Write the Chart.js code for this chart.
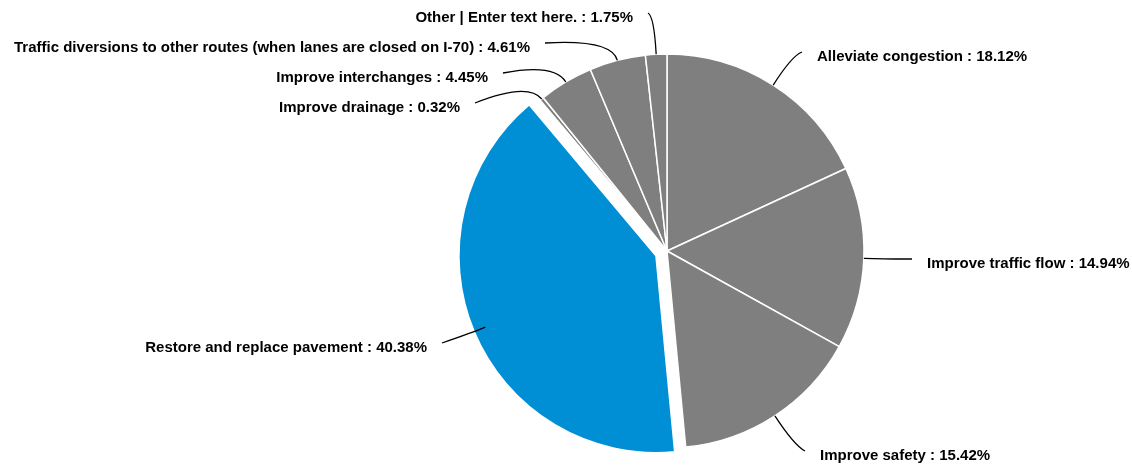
<!DOCTYPE html>
<html>
<head>
<meta charset="utf-8">
<script src="https://cdn.jsdelivr.net/npm/chart.js@4/dist/chart.umd.min.js"></script>
<style>
  html, body { margin: 0; padding: 0; background: #ffffff; }
  #wrap { width: 1132px; height: 466px; }
</style>
</head>
<body>
<div id="wrap"><canvas id="pie" width="1132" height="466"></canvas></div>
<script>
// Survey answers, clockwise from 12 o'clock
const categories = [
  'Alleviate congestion',
  'Improve traffic flow',
  'Improve safety',
  'Restore and replace pavement',
  'Improve drainage',
  'Improve interchanges',
  'Traffic diversions to other routes (when lanes are closed on I-70)',
  'Other | Enter text here.'
];
const shares = [18.12, 14.94, 15.42, 40.38, 0.32, 4.45, 4.61, 1.75];

// Styling
const GREY = '#7f7f7f';
const BLUE = '#008fd5';
const sliceColors = [GREY, GREY, GREY, BLUE, GREY, GREY, GREY, GREY];
const pulledSlice = 3;      // the highlighted slice sits apart from the rest
const pullDistance = 12;
const pieRadius = 197;

// Where each leader line ends, relative to the pie centre: [dx, dy, elbow length]
const leaderLayout = [
  [135, -199, 35],
  [245, 8, 20],
  [138, 200, 35],
  [-225, 92, 15],
  [-192, -148, 22],
  [-164, -178, 22],
  [-122, -208, 22],
  [-19, -238, 38]
];

// Moves one arc outward along its bisector without growing its radius
const pullOutSlice = {
  id: 'pullOutSlice',
  afterUpdate(chart) {
    const arc = chart.getDatasetMeta(0).data[pulledSlice];
    if (!arc || arc.$pulled) return;
    const baseDraw = arc.draw.bind(arc);
    arc.draw = function (ctx, area) {
      const a = (this.startAngle + this.endAngle) / 2;
      ctx.save();
      ctx.translate(Math.cos(a) * pullDistance, Math.sin(a) * pullDistance);
      baseDraw(ctx, area);
      ctx.restore();
    };
    arc.$pulled = true;
  }
};

// Outside labels joined to their slices by curved leader lines
const leaderLabels = {
  id: 'leaderLabels',
  afterDatasetsDraw(chart) {
    const ctx = chart.ctx;
    const arcs = chart.getDatasetMeta(0).data;
    ctx.save();
    ctx.font = 'bold 15px "Liberation Sans", Arial, sans-serif';
    ctx.textBaseline = 'middle';
    ctx.fillStyle = '#000000';
    ctx.strokeStyle = '#000000';
    ctx.lineWidth = 1.3;
    arcs.forEach((arc, i) => {
      const a = (arc.startAngle + arc.endAngle) / 2;
      const r = arc.outerRadius;
      const sx = arc.x + Math.cos(a) * r;
      const sy = arc.y + Math.sin(a) * r;
      const [dx, dy, elbow] = leaderLayout[i];
      const ex = arc.x + dx;
      const ey = arc.y + dy;
      const cx = sx + Math.cos(a) * elbow;
      const cy = sy + Math.sin(a) * elbow;
      ctx.beginPath();
      ctx.moveTo(sx, sy);
      ctx.quadraticCurveTo(cx, cy, ex, ey);
      ctx.stroke();
      const text = categories[i] + ' : ' + shares[i].toFixed(2) + '%';
      if (dx < 0) {
        ctx.textAlign = 'right';
        ctx.fillText(text, ex - 15, ey + 4.5);
      } else {
        ctx.textAlign = 'left';
        ctx.fillText(text, ex + 15, ey + 4.5);
      }
    });
    ctx.restore();
  }
};

new Chart(document.getElementById('pie'), {
  type: 'pie',
  data: {
    labels: categories,
    datasets: [{
      data: shares,
      backgroundColor: sliceColors,
      borderColor: '#ffffff',
      borderWidth: 1.5
    }]
  },
  options: {
    responsive: false,
    animation: false,
    radius: pieRadius,
    layout: { padding: { left: 202, right: 0, top: 36, bottom: 0 } },
    plugins: {
      legend: { display: false },
      tooltip: { enabled: false }
    }
  },
  plugins: [pullOutSlice, leaderLabels]
});
</script>
</body>
</html>
